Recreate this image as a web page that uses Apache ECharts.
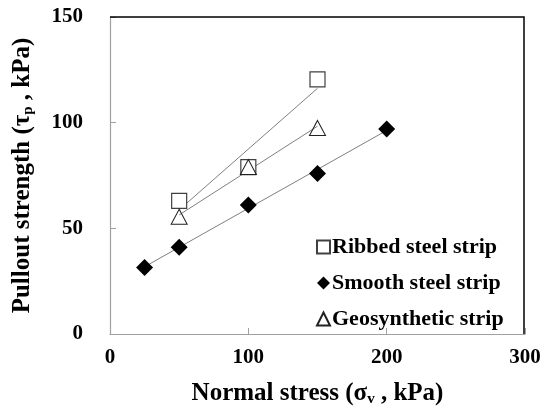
<!DOCTYPE html>
<html><head><meta charset="utf-8">
<script src="https://cdn.jsdelivr.net/npm/echarts@6/dist/echarts.min.js"></script>
<style>html,body{margin:0;padding:0;background:#fff}#c{width:551px;height:412px}</style>
</head><body><div id="c"></div>
<script>
const ribbedX = [50, 100, 150];
const ribbedY = [63, 79, 120.5];
const smoothX = [25, 50, 100, 150, 200];
const smoothY = [31.5, 41, 61, 76, 97];
const geoX = [50, 100, 150];
const geoY = [55.5, 79, 97.5];
const xTicks = [0, 100, 200, 300];
const yTicks = [0, 50, 100, 150];

function pairs(xs, ys){ return xs.map((x,i)=>[x, ys[i]]); }
function fit(xs, ys){
  const n = xs.length;
  const mx = xs.reduce((a,b)=>a+b,0)/n, my = ys.reduce((a,b)=>a+b,0)/n;
  let sxy=0, sxx=0;
  for(let i=0;i<n;i++){ sxy+=(xs[i]-mx)*(ys[i]-my); sxx+=(xs[i]-mx)**2; }
  const b = sxy/sxx, a = my-b*mx;
  const x0 = Math.min(...xs), x1 = Math.max(...xs);
  return [[x0, a+b*x0],[x1, a+b*x1]];
}
const font = 'Liberation Serif';
const trend = (d)=>({type:'line', data:d, symbol:'none', silent:true, z:1,
  lineStyle:{color:'#7f7f7f', width:1}});
const chart = echarts.init(document.getElementById('c'));
chart.setOption({
  animation:false,
  grid:{left:110, right:26, top:17, bottom:74},
  xAxis:{type:'value', min:0, max:300, interval:100, z:5,
    axisLine:{show:true, onZero:false, lineStyle:{color:'#a0a0a0', width:1.2}},
    axisTick:{show:true, inside:true, length:6, lineStyle:{color:'#a0a0a0'}},
    splitLine:{show:false},
    axisLabel:{color:'#000', fontFamily:font, fontWeight:'bold', fontSize:21, margin:13,
      formatter:(v)=>xTicks.includes(v)?String(v):''},
    name:'Normal stress (σ{s|v} , kPa)', nameLocation:'middle', nameGap:46,
    nameTextStyle:{color:'#000', fontFamily:font, fontWeight:'bold', fontSize:25,
      rich:{s:{fontFamily:font, fontWeight:'bold', fontSize:15, padding:[12,0,0,0]}}}
  },
  yAxis:{type:'value', min:0, max:150, interval:50, z:5,
    axisLine:{show:true, onZero:false, lineStyle:{color:'#a0a0a0', width:1.2}},
    axisTick:{show:true, inside:true, length:6, lineStyle:{color:'#a0a0a0'}},
    splitLine:{show:false},
    axisLabel:{color:'#000', fontFamily:font, fontWeight:'bold', fontSize:21, margin:27,
      formatter:(v)=>yTicks.includes(v)?String(v):''},
    name:'Pullout strength (τ{s|p} , kPa)', nameLocation:'middle', nameGap:74, nameRotate:90,
    nameTextStyle:{color:'#000', fontFamily:font, fontWeight:'bold', fontSize:25,
      rich:{s:{fontFamily:font, fontWeight:'bold', fontSize:15, padding:[12,0,0,0]}}}
  },
  legend:{orient:'vertical', left:311, top:231, itemGap:14, itemWidth:13, itemHeight:13,
    data:['Ribbed steel strip','Smooth steel strip','Geosynthetic strip'],
    textStyle:{color:'#000', fontFamily:font, fontWeight:'bold', fontSize:22, padding:[0,0,0,-3]}},
  series:[
    trend(fit(ribbedX, ribbedY)),
    trend(fit(smoothX, smoothY)),
    trend(fit(geoX, geoY)),
    {name:'Ribbed steel strip', type:'scatter', data:pairs(ribbedX, ribbedY), symbol:'rect', symbolSize:15, z:3,
      itemStyle:{color:'#fff', opacity:1, borderColor:'#404040', borderWidth:1.2}},
    {name:'Smooth steel strip', type:'scatter', data:pairs(smoothX, smoothY), symbol:'diamond', symbolSize:[17,17], z:3,
      itemStyle:{color:'#000', opacity:1}},
    {name:'Geosynthetic strip', type:'scatter', data:pairs(geoX, geoY), symbol:'triangle', symbolSize:[16,15], z:4,
      itemStyle:{color:'rgba(255,255,255,0)', opacity:1, borderColor:'#222', borderWidth:1}}
  ]
});
const tl = chart.convertToPixel({gridIndex:0}, [0, 150]);
const br = chart.convertToPixel({gridIndex:0}, [300, 0]);
chart.setOption({graphic:[{type:'polyline', silent:true, z:10,
  shape:{points:[[tl[0], tl[1]],[br[0]-1, tl[1]],[br[0]-1, br[1]]]},
  style:{fill:null, stroke:'#000', lineWidth:1.5}}]});
</script></body></html>
